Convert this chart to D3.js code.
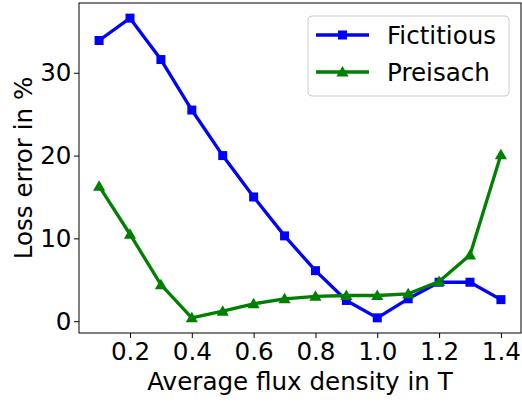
<!DOCTYPE html>
<html>
<head>
<meta charset="utf-8">
<script src="https://cdn.jsdelivr.net/npm/d3@7"></script>
<style>
  body { margin: 0; background: #fff; }
  text { font-family: "DejaVu Sans", sans-serif; }
</style>
</head>
<body>
<div class="chart"></div>
<script>
// Data
var fluxDensity = [0.1, 0.2, 0.3, 0.4, 0.5, 0.6, 0.7, 0.8, 0.9, 1.0, 1.1, 1.2, 1.3, 1.4];
var fictitious = [33.9, 36.6, 31.6, 25.5, 20.0, 15.0, 10.3, 6.1, 2.5, 0.4, 2.7, 4.7, 4.7, 2.6];
var preisach = [16.3, 10.5, 4.4, 0.4, 1.2, 2.1, 2.7, 3.0, 3.1, 3.1, 3.3, 4.8, 8.0, 20.1];
var xTicks = [0.2, 0.4, 0.6, 0.8, 1.0, 1.2, 1.4];
var yTicks = [0, 10, 20, 30];
var seriesNames = ["Fictitious", "Preisach"];
var seriesColors = ["#0000ff", "#008000"];

// SVG area
var svgWidth = 522;
var svgHeight = 403;
var fontSize = "24.6px";

var chartMargin = { top: 3, right: 1, bottom: 70, left: 79 };
var chartWidth = svgWidth - chartMargin.left - chartMargin.right;
var chartHeight = svgHeight - chartMargin.top - chartMargin.bottom;

var svg = d3.select(".chart")
  .append("svg")
  .attr("width", svgWidth)
  .attr("height", svgHeight);

var chart = svg.append("g")
  .attr("transform", `translate(${chartMargin.left}, ${chartMargin.top})`);

// Scales (5% margins like matplotlib)
var xScale = d3.scaleLinear().domain([0.035, 1.465]).range([0, chartWidth]);
var yScale = d3.scaleLinear().domain([-1.43, 38.43]).range([chartHeight, 0]);

// Axes
var bottomAxis = d3.axisBottom(xScale).tickValues(xTicks).tickSize(5).tickPadding(5)
  .tickFormat(d3.format(".1f"));
var leftAxis = d3.axisLeft(yScale).tickValues(yTicks).tickSize(5).tickPadding(2.5);

var gx = chart.append("g")
  .attr("transform", `translate(0, ${chartHeight})`)
  .call(bottomAxis);
var gy = chart.append("g").call(leftAxis);

[gx, gy].forEach(function (g) {
  g.select(".domain").remove();
  g.selectAll("line").attr("stroke", "#000").attr("stroke-width", 1);
  g.selectAll("text").attr("fill", "#000").style("font-size", fontSize)
    .style("font-family", "DejaVu Sans");
});

// Frame
chart.append("rect")
  .attr("x", 0).attr("y", 0)
  .attr("width", chartWidth).attr("height", chartHeight)
  .attr("fill", "none").attr("stroke", "#000").attr("stroke-width", 1);

// Lines and markers
var allSeries = [fictitious, preisach];
var line = d3.line()
  .x(function (d, i) { return xScale(fluxDensity[i]); })
  .y(function (d) { return yScale(d); });

var square = d3.symbol().type(d3.symbolSquare).size(81);
var triangle = d3.symbol().type(d3.symbolTriangle).size(64);

allSeries.forEach(function (values, s) {
  chart.append("path")
    .datum(values)
    .attr("d", line)
    .attr("fill", "none")
    .attr("stroke", seriesColors[s])
    .attr("stroke-width", 3.3)
    .attr("stroke-linejoin", "round");

  chart.selectAll(".m" + s)
    .data(values)
    .enter()
    .append("path")
    .attr("class", "m" + s)
    .attr("transform", function (d, i) {
      return `translate(${xScale(fluxDensity[i])}, ${yScale(d) + (s === 1 ? 1 : 0)})`;
    })
    .attr("d", s === 0 ? square : triangle)
    .attr("fill", seriesColors[s]);
});

// Legend
var legend = svg.append("g").attr("transform", "translate(308, 16)");
legend.append("rect")
  .attr("width", 201).attr("height", 80)
  .attr("rx", 4).attr("ry", 4)
  .attr("fill", "#fff").attr("fill-opacity", 0.8)
  .attr("stroke", "#cccccc").attr("stroke-width", 1);

seriesNames.forEach(function (name, s) {
  var yPos = 19 + s * 37;
  legend.append("line")
    .attr("x1", 8).attr("x2", 61)
    .attr("y1", yPos).attr("y2", yPos)
    .attr("stroke", seriesColors[s]).attr("stroke-width", 3.3);
  legend.append("path")
    .attr("transform", `translate(34.5, ${yPos + (s === 1 ? 1 : 0)})`)
    .attr("d", s === 0 ? square : triangle)
    .attr("fill", seriesColors[s]);
  legend.append("text")
    .attr("x", 79).attr("y", yPos + 9)
    .style("font-size", fontSize)
    .text(name);
});

// x-axis label
svg.append("text")
  .attr("x", 300)
  .attr("y", 390)
  .attr("text-anchor", "middle")
  .style("font-size", fontSize)
  .text("Average flux density in T");

// y-axis label
svg.append("text")
  .attr("transform", "translate(32, 168) rotate(-90)")
  .attr("text-anchor", "middle")
  .style("font-size", fontSize)
  .text("Loss error in %");
</script>
</body>
</html>
